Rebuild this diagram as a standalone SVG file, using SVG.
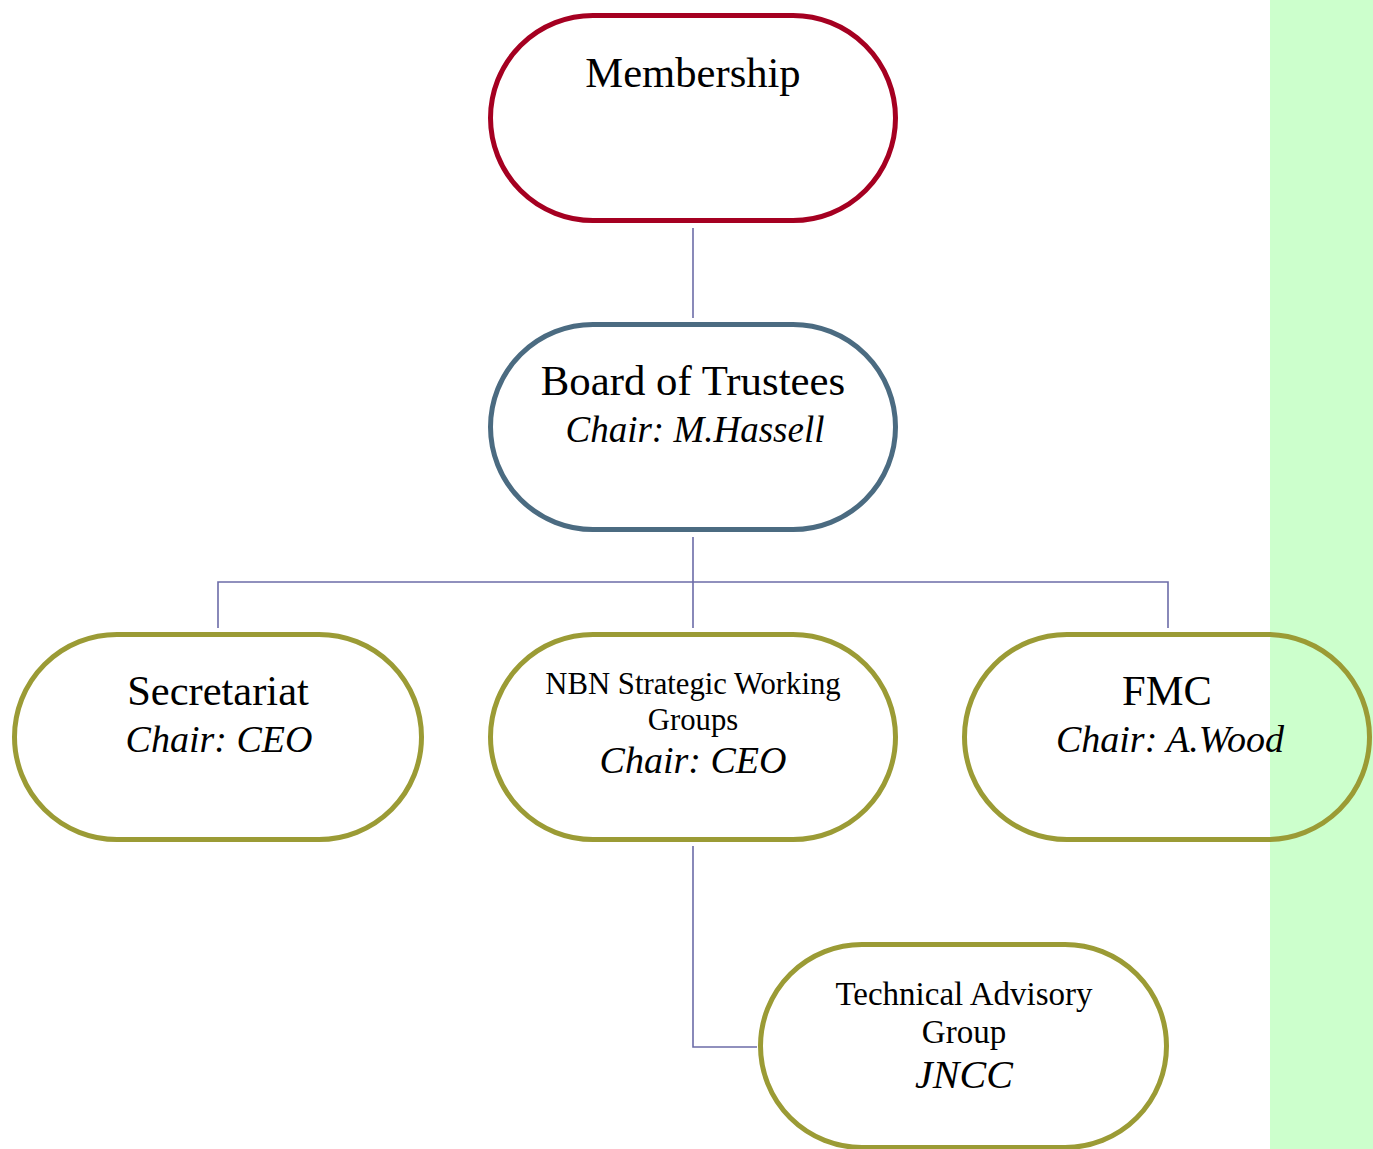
<svg xmlns="http://www.w3.org/2000/svg" width="1373" height="1149" viewBox="0 0 1373 1149">
<style>
.node{fill:none;stroke-width:5}
.red{stroke:#a50021}
.blue{stroke:#4b6b81}
.olive{stroke:#9b9b35}
.t{font-family:"Liberation Serif","Times New Roman",serif;fill:#000;text-anchor:middle}
.i{font-family:"Liberation Serif","Times New Roman",serif;font-style:italic;fill:#000;text-anchor:middle}
.c{fill:none;stroke:#6c6ca8;stroke-width:1.6}
</style>
<rect x="0" y="0" width="1373" height="1149" fill="#ffffff"/>
<rect x="1270" y="0" width="103" height="1149" fill="#ccffcc"/>
<g id="connectors">
<path class="c" d="M693 228V318"/>
<path class="c" d="M693 537V628M218 628V582H1168V628"/>
<path class="c" d="M693 846V1047H757"/>
</g>
<g id="membership">
<rect class="node red" x="490.5" y="15.5" width="405" height="205" rx="102.5"/>
<text class="t" x="693" y="87" font-size="42.6">Membership</text>
</g>
<g id="board">
<rect class="node blue" x="490.5" y="324.5" width="405" height="205" rx="102.5"/>
<text class="t" x="693" y="395" font-size="42.8">Board of Trustees</text>
<text class="i" x="695" y="442" font-size="37">Chair: M.Hassell</text>
</g>
<g id="secretariat">
<rect class="node olive" x="14.5" y="634.5" width="407" height="205" rx="102.5"/>
<text class="t" x="218" y="705" font-size="42.5">Secretariat</text>
<text class="i" x="219" y="752" font-size="38">Chair: CEO</text>
</g>
<g id="nbn">
<rect class="node olive" x="490.5" y="634.5" width="405" height="205" rx="102.5"/>
<text class="t" x="693" y="694" font-size="30.7">NBN Strategic Working</text>
<text class="t" x="693" y="730" font-size="30.7">Groups</text>
<text class="i" x="693" y="773" font-size="38">Chair: CEO</text>
</g>
<g id="fmc">
<rect class="node olive" x="964.5" y="634.5" width="405" height="205" rx="102.5"/>
<text class="t" x="1167" y="705" font-size="42.5">FMC</text>
<text class="i" x="1170" y="752" font-size="38">Chair: A.Wood</text>
</g>
<g id="tag">
<rect class="node olive" x="760.5" y="944.5" width="406" height="203" rx="101.5"/>
<text class="t" x="964" y="1005" font-size="33">Technical Advisory</text>
<text class="t" x="964" y="1043" font-size="33">Group</text>
<text class="i" x="964" y="1088" font-size="40">JNCC</text>
</g>
</svg>
